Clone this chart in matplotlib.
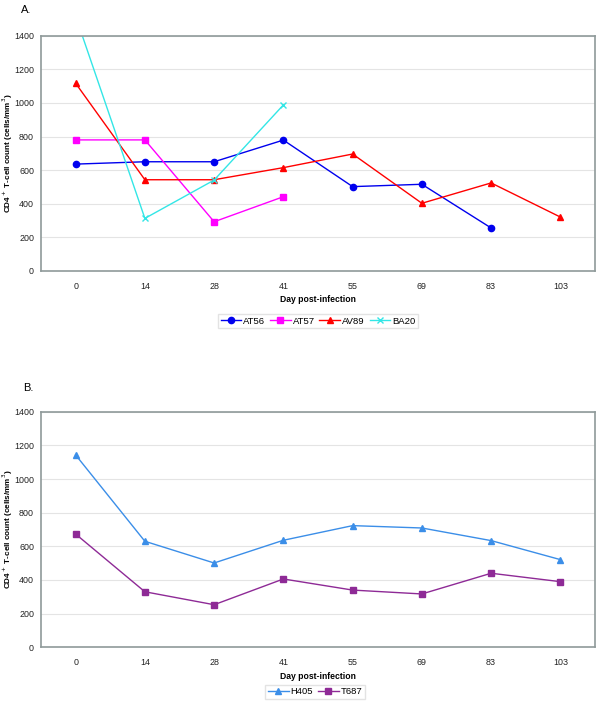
import matplotlib.pyplot as plt

plt.rcParams['font.family'] = ['Liberation Sans', 'DejaVu Sans']

days = ['0', '14', '28', '41', '55', '69', '83', '103']

# panel A
at56 = [636, 650, 650, 779, 502, 516, 256]
at57 = [780, 780, 293, 442]
av89 = [1117, 543, 543, 615, 696, 403, 524, 321]
ba20 = [1516, 313, 541, 988]

# panel B
h405 = [1143, 630, 501, 636, 723, 709, 634, 521]
t687 = [673, 330, 253, 406, 340, 317, 440, 390]

fig = plt.figure(figsize=(6, 7.05), dpi=100)
W, H = 600, 705
FS = 6.4


def make_axes(top, bottom):
    return fig.add_axes([41 / W, 1 - bottom / H, 554 / W, (bottom - top) / H])


def style(ax):
    ax.set_xlim(-0.5, len(days) - 0.5)
    ax.set_ylim(0, 1400)
    ax.set_yticks(range(0, 1401, 200))
    ax.set_xticks(range(len(days)))
    ax.set_xticklabels(days)
    ax.tick_params(axis='y', length=0, labelsize=FS, pad=5, colors='#222222')
    ax.tick_params(axis='x', length=0, labelsize=FS, pad=8, colors='#222222')
    ax.grid(axis='y', color='#e4e4e4', linewidth=0.8)
    ax.set_axisbelow(True)
    for s in ax.spines.values():
        s.set_color('#8f9a9a')
        s.set_linewidth(1.2)
    ax.set_xlabel('Day post-infection', fontsize=FS - 0.2, fontweight='bold', labelpad=3)
    ax.set_ylabel('CD4$^+$ T-cell count (cells/mm$^3$)', fontsize=5.9,
                  fontweight='bold')
    ax.yaxis.set_label_coords(-0.047, 0.5)


def legend(ax, cx, cy, ncol):
    fig.legend(*ax.get_legend_handles_labels(), loc='center',
               bbox_to_anchor=(cx / W, 1 - cy / H), ncol=ncol, fontsize=FS + 0.4,
               frameon=True, fancybox=False, edgecolor='#dddddd', handlelength=2.2,
               columnspacing=0.5, handletextpad=0.2, borderpad=0.3)


x = list(range(len(days)))

# A
ax1 = make_axes(35.7, 271)
ax1.plot(x[:len(at56)], at56, color='#0000ee', marker='o', ms=4.5, lw=1, label='AT56')
ax1.plot(x[:len(at57)], at57, color='#ff00ff', marker='s', ms=4.5, lw=1, label='AT57')
ax1.plot(x[:len(av89)], av89, color='#ff0000', marker='^', ms=4.5, lw=1, label='AV89')
ax1.plot(x[:len(ba20)], ba20, color='#33e6e6', marker='x', ms=4.5, lw=1, label='BA20')
style(ax1)
legend(ax1, 318, 321, 4)
fig.text(21 / W, 1 - 10 / H, 'A.', fontsize=8, va='center')

# B
ax2 = make_axes(411.7, 647.3)
ax2.plot(x, h405, color='#3b8ee8', marker='^', ms=4.5, lw=1, label='H405')
ax2.plot(x, t687, color='#8e2a96', marker='s', ms=4.5, lw=1, label='T687')
style(ax2)
legend(ax2, 315, 692, 2)
fig.text(23 / W, 1 - 388 / H, 'B.', fontsize=8, va='center')

fig.savefig('out.png', dpi=100)
